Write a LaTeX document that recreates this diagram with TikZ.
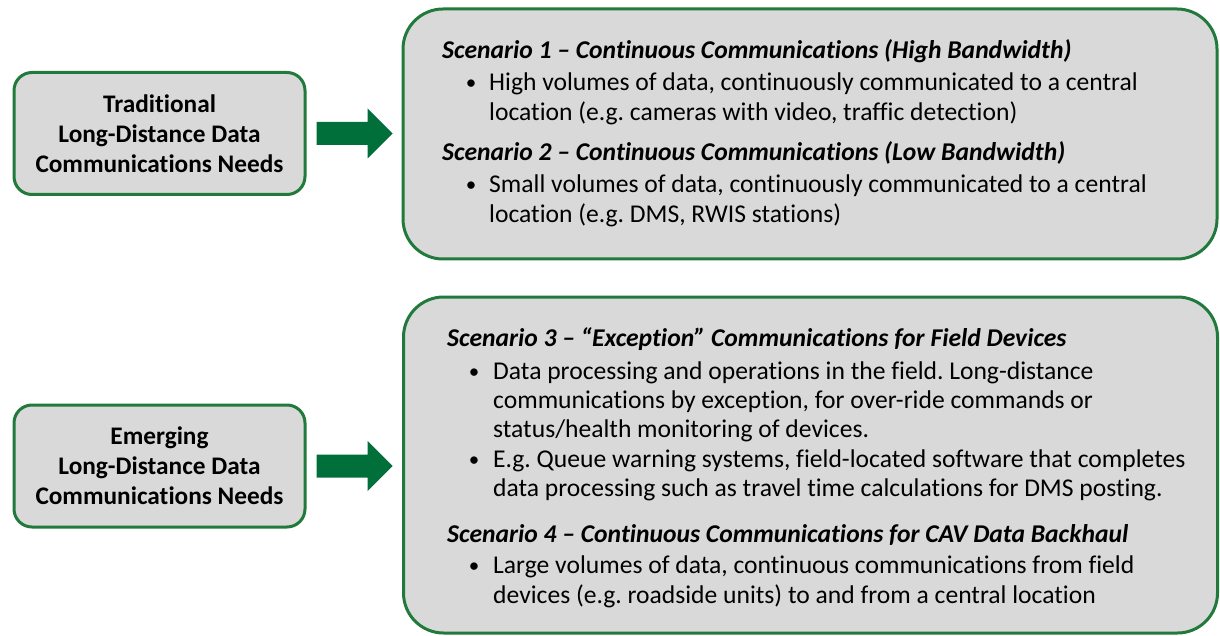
\documentclass[tikz,border=0pt]{standalone}
\usepackage{fontspec}
\setmainfont{Carlito}[RawFeature=-liga]
\frenchspacing
\definecolor{boxgreen}{HTML}{217A3C}
\definecolor{arrowgreen}{HTML}{006F3A}
\definecolor{boxgray}{HTML}{D9D9D9}
\tikzset{
  gbox/.style={draw=boxgreen, line width=3pt, fill=boxgray, inner sep=0pt},
  leftbox/.style={gbox, rounded corners=18pt, minimum width=291pt, minimum height=122pt,
    align=center, font=\fontsize{25.3}{30}\selectfont\bfseries},
  rightbox/.style={gbox, rounded corners=40pt, minimum width=814pt},
  txt/.style={anchor=base west, inner sep=0pt, font=\fontsize{25.6}{30}\selectfont},
  head/.style={txt, font=\fontsize{25.6}{30}\selectfont\bfseries\itshape},
  bul/.style={anchor=base, inner sep=0pt, font=\fontsize{21}{30}\selectfont},
  blockarrow/.style={fill=arrowgreen}
}
\begin{document}
\begin{tikzpicture}[x=1pt, y=-1pt]
\useasboundingbox (0,0) rectangle (1220,636);
% left boxes
\node[leftbox] (t1) at (159.5,133.5) {Traditional\\Long-Distance Data\\Communications Needs};
\node[leftbox] (t2) at (159.5,466) {Emerging\\Long-Distance Data\\Communications Needs};
% right boxes
\node[rightbox, minimum height=250pt] (s1) at (810,134) {};
\node[rightbox, minimum height=336pt] (s2) at (810.5,465) {};
% arrows
\foreach \src in {t1,t2}{
  \begin{scope}[shift={(\src.east)}]
    \fill[blockarrow] (10,-11.5) -- (61,-11.5) -- (61,-25) -- (86,0) -- (61,25) -- (61,11.5) -- (10,11.5) -- cycle;
  \end{scope}
}
% box 1 text
\node[head] (h1) at (442,59) {Scenario 1 – Continuous Communications (High Bandwidth)};
\node[bul] (b1) at (471,90) {•};
\node[txt] (l1a) at (489,91) {High volumes of data, continuously communicated to a central};
\node[txt] (l1b) at (489,121) {location (e.g. cameras with video, traffic detection)};
\node[head] (h2) at (442,161) {Scenario 2 – Continuous Communications (Low Bandwidth)};
\node[bul] (b2) at (471,192) {•};
\node[txt] (l2a) at (489,193) {Small volumes of data, continuously communicated to a central};
\node[txt] (l2b) at (489,223) {location (e.g. DMS, RWIS stations)};
% box 2 text
\node[head] (h3) at (447,346) {Scenario 3 – “Exception” Communications for Field Devices};
\node[bul] (b3) at (474,378) {•};
\node[txt] (l3a) at (493,379) {Data processing and operations in the field. Long-distance};
\node[txt] (l3b) at (493,408) {communications by exception, for over-ride commands or};
\node[txt] (l3c) at (493,437) {status/health monitoring of devices.};
\node[bul] (b4) at (474,466) {•};
\node[txt] (l4a) at (493,467) {E.g. Queue warning systems, field-located software that completes};
\node[txt] (l4b) at (493,496) {data processing such as travel time calculations for DMS posting.};
\node[head] (h4) at (447,542) {Scenario 4 – Continuous Communications for CAV Data Backhaul};
\node[bul] (b5) at (474,572) {•};
\node[txt] (l5a) at (493,573) {Large volumes of data, continuous communications from field};
\node[txt] (l5b) at (493,603) {devices (e.g. roadside units) to and from a central location};
\end{tikzpicture}
\end{document}
